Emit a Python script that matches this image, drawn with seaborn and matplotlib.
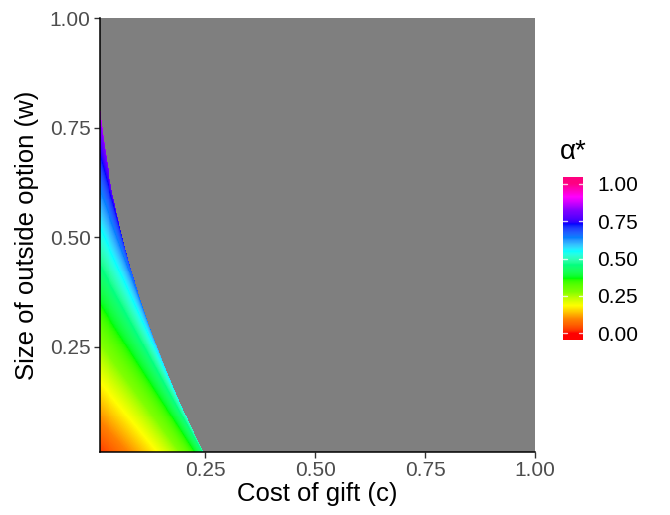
import numpy as np
import pandas as pd
import matplotlib
matplotlib.use("Agg")
import matplotlib.pyplot as plt
from matplotlib.colors import ListedColormap, to_rgb
import seaborn as sns

# ---- data ----
c_range = [0.01, 1.0]            # x extent of the raster (cost of gift)
w_range = [0.01, 1.0]            # y extent of the raster (outside option)
x_ticks = [0.25, 0.50, 0.75, 1.00]
y_ticks = [0.25, 0.50, 0.75, 1.00]
legend_ticks = [0.00, 0.25, 0.50, 0.75, 1.00]
rainbow_cols = ["#FF0000", "#FF8000", "#FFFF00", "#80FF00", "#00FF00", "#00FF80",
                "#00FFFF", "#0080FF", "#0000FF", "#8000FF", "#FF00FF", "#FF0080"]
na_colour = "#7F7F7F"
n_cells = 440

# model surface: alpha* is the smaller root of a^2 - (1+w)a + (w+c) = 0,
# undefined (grey) where (1-w)^2 < 4c
c_cent = c_range[0] + (np.arange(n_cells) + 0.5) * (c_range[1] - c_range[0]) / n_cells
w_cent = w_range[1] - (np.arange(n_cells) + 0.5) * (w_range[1] - w_range[0]) / n_cells
C, W = np.meshgrid(c_cent, w_cent)
disc = (1 - W) ** 2 - 4 * C
alpha = np.where(disc >= 0, (1 + W - np.sqrt(np.clip(disc, 0, None))) / 2, np.nan)
df = pd.DataFrame(alpha, index=w_cent, columns=c_cent)


# ---- colour scale interpolated in CIE Lab (like ggplot's gradientn) ----
def srgb_to_lab(rgb):
    rgb = np.asarray(rgb, float)
    lin = np.where(rgb <= 0.04045, rgb / 12.92, ((rgb + 0.055) / 1.055) ** 2.4)
    M = np.array([[0.4124, 0.3576, 0.1805], [0.2126, 0.7152, 0.0722], [0.0193, 0.1192, 0.9505]])
    xyz = lin @ M.T / np.array([0.95047, 1.0, 1.08883])
    f = np.where(xyz > 216 / 24389, np.cbrt(xyz), (24389 / 27 * xyz + 16) / 116)
    return np.stack([116 * f[:, 1] - 16, 500 * (f[:, 0] - f[:, 1]), 200 * (f[:, 1] - f[:, 2])], 1)


def lab_to_srgb(lab):
    fy = (lab[:, 0] + 16) / 116
    fx = fy + lab[:, 1] / 500
    fz = fy - lab[:, 2] / 200
    def finv(t):
        return np.where(t ** 3 > 216 / 24389, t ** 3, (116 * t - 16) / (24389 / 27))
    xyz = np.stack([finv(fx), finv(fy), finv(fz)], 1) * np.array([0.95047, 1.0, 1.08883])
    Minv = np.linalg.inv(np.array([[0.4124, 0.3576, 0.1805], [0.2126, 0.7152, 0.0722],
                                   [0.0193, 0.1192, 0.9505]]))
    lin = np.clip(xyz @ Minv.T, 0, 1)
    rgb = np.where(lin <= 0.0031308, 12.92 * lin, 1.055 * lin ** (1 / 2.4) - 0.055)
    return np.clip(rgb, 0, 1)


labs = srgb_to_lab([to_rgb(c) for c in rainbow_cols])
pos = np.linspace(0, 1, len(rainbow_cols))
t = np.linspace(0, 1, 512)
lab_i = np.stack([np.interp(t, pos, labs[:, k]) for k in range(3)], 1)
cmap = ListedColormap(lab_to_srgb(lab_i))
cmap.set_bad(na_colour)

# ---- figure ----
sns.set_theme(style="ticks")
plt.rcParams["font.family"] = ["Liberation Sans", "DejaVu Sans"]

fig = plt.figure(figsize=(6.7, 5.15), dpi=100)
L, R, T, B = 99.6, 535.0, 18.0, 452.0
ax = fig.add_axes([L / 670, 1 - B / 515, (R - L) / 670, (B - T) / 515])

sns.heatmap(df, ax=ax, cmap=cmap, vmin=0, vmax=1, cbar=False,
            xticklabels=False, yticklabels=False, linewidths=0, rasterized=True)


def xi(c):
    return (c - c_range[0]) / (c_range[1] - c_range[0]) * n_cells


def yi(w):
    return (w_range[1] - w) / (w_range[1] - w_range[0]) * n_cells


ax.set_xlim(0, n_cells)
ax.set_ylim(n_cells, 0)
ax.set_xticks([xi(v) for v in x_ticks])
ax.set_xticklabels([f"{v:.2f}" for v in x_ticks])
ax.set_yticks([yi(v) for v in y_ticks])
ax.set_yticklabels([f"{v:.2f}" for v in y_ticks])
for s in ["left", "bottom"]:
    ax.spines[s].set_visible(True)
    ax.spines[s].set_color("black")
    ax.spines[s].set_linewidth(1.1)
for s in ["top", "right"]:
    ax.spines[s].set_visible(False)
ax.tick_params(axis="both", which="both", direction="out", length=4, width=1.0,
               color="#333333", labelcolor="#4D4D4D", labelsize=15, pad=2.5,
               bottom=True, left=True)
ax.set_xlabel("Cost of gift (c)", fontsize=18.5, color="black", va="center")
ax.set_ylabel("Size of outside option (w)", fontsize=18.5, color="black", va="center")
ax.xaxis.set_label_coords(0.5, (452 - 494) / 434)
ax.yaxis.set_label_coords((27 - 99.6) / 435.4, 0.5)

# ---- colour bar legend ----
cb_l, cb_r, cb_t, cb_b = 563.0, 583.0, 177.0, 340.0
cax = fig.add_axes([cb_l / 670, 1 - cb_b / 515, (cb_r - cb_l) / 670, (cb_b - cb_t) / 515])
lo, hi = -0.045, 1.045
grad = np.linspace(hi, lo, 300)[:, None]
cax.imshow(np.clip(grad, 0, 1), aspect="auto", cmap=cmap, vmin=0, vmax=1,
           extent=(0, 1, lo, hi), interpolation="bilinear")
cax.set_xlim(0, 1)
cax.set_ylim(lo, hi)
for tv in legend_ticks:
    cax.plot([0, 0.2], [tv, tv], color="white", lw=1.0, alpha=0.8)
    cax.plot([0.8, 1], [tv, tv], color="white", lw=1.0, alpha=0.8)
cax.set_xticks([])
cax.yaxis.tick_right()
cax.set_yticks(legend_ticks)
cax.set_yticklabels([f"{v:.2f}" for v in legend_ticks])
cax.tick_params(axis="y", length=0, pad=10, labelsize=15, labelcolor="black")
for s in cax.spines.values():
    s.set_visible(False)
fig.text(560 / 670, 1 - 152 / 515, "α*", fontsize=20, color="black",
         ha="left", va="center")

fig.savefig("out.png", dpi=100)
